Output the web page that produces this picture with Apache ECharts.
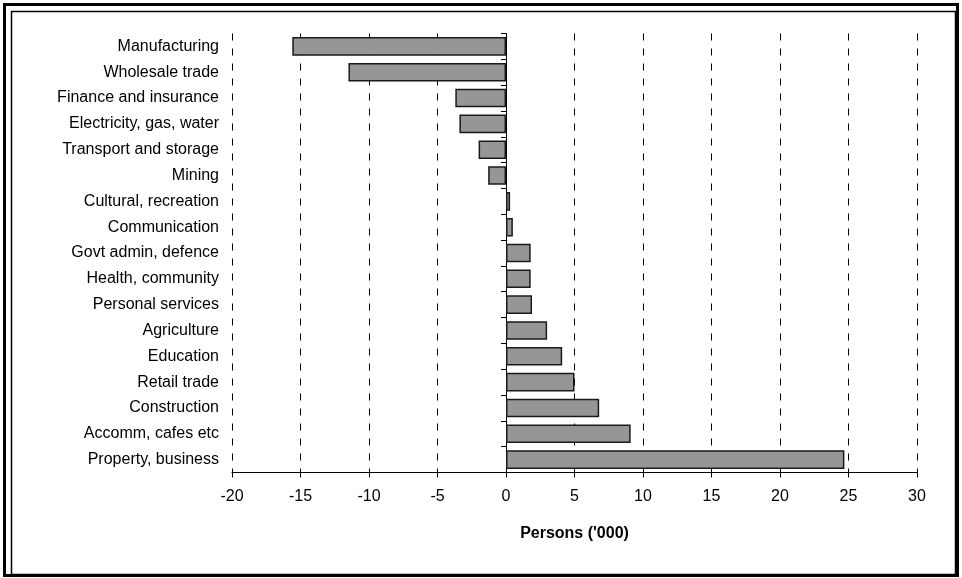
<!DOCTYPE html>
<html>
<head>
<meta charset="utf-8">
<script src="https://cdn.jsdelivr.net/npm/echarts@6/dist/echarts.min.js"></script>
<style>html,body{margin:0;padding:0;background:#fff}#c{width:962px;height:578px}</style>
</head>
<body>
<div id="c"></div>
<script>
var categories = ["Manufacturing","Wholesale trade","Finance and insurance","Electricity, gas, water","Transport and storage","Mining","Cultural, recreation","Communication","Govt admin, defence","Health, community","Personal services","Agriculture","Education","Retail trade","Construction","Accomm, cafes etc","Property, business"];
var values = [-15.6,-11.5,-3.7,-3.4,-2.0,-1.3,0.3,0.5,1.8,1.8,1.9,3.0,4.1,5.0,6.8,9.1,24.7];
var xTicks = {min:-20, max:30, step:5};
var xTitle = "Persons ('000)";

var gridLeft = 232, gridRight = 45;
var plotW = 962 - gridLeft - gridRight;
var zeroOffset = plotW * (0 - xTicks.min) / (xTicks.max - xTicks.min);

var chart = echarts.init(document.getElementById('c'), null, {renderer:'canvas'});
var font = 'Liberation Sans, Arial, sans-serif';
chart.setOption({
  animation:false,
  backgroundColor:'#fff',
  grid:{left:gridLeft,right:gridRight,top:33.5,bottom:105.5,containLabel:false,outerBoundsMode:'none'},
  xAxis:{
    type:'value', min:xTicks.min, max:xTicks.max, interval:xTicks.step,
    axisLine:{show:true,onZero:false,lineStyle:{color:'#000',width:1}},
    axisTick:{show:true,length:5,lineStyle:{color:'#000'}},
    axisLabel:{color:'#000',fontSize:16,fontFamily:font,margin:16},
    splitLine:{show:true,lineStyle:{color:'#000',width:1,type:[7,8]}},
    name:xTitle, nameLocation:'middle', nameGap:53,
    nameTextStyle:{color:'#000',fontSize:16,fontWeight:'bold',fontFamily:font}
  },
  yAxis:[{
    type:'category', data:categories, inverse:true, position:'left',
    axisLine:{show:false}, axisTick:{show:false}, splitLine:{show:false},
    axisLabel:{color:'#000',fontSize:16,fontFamily:font,margin:13}
  },{
    type:'category', data:categories, inverse:true, position:'left', offset:-zeroOffset,
    axisLine:{show:true,onZero:false,lineStyle:{color:'#000',width:1}},
    axisTick:{show:true,length:5,lineStyle:{color:'#000'}},
    axisLabel:{show:false}, splitLine:{show:false}
  }],
  series:[{
    type:'bar', data:values, yAxisIndex:0, barCategoryGap:'28%',
    itemStyle:{color:'#969696',borderColor:'#1a1a1a',borderWidth:1.5}
  }],
  graphic:[
    {type:'rect',shape:{x:4.5,y:4.5,width:953,height:571},style:{fill:null,stroke:'#000',lineWidth:3},silent:true},
    {type:'rect',shape:{x:11.5,y:11.5,width:944,height:563},style:{fill:null,stroke:'#000',lineWidth:1.5},silent:true}
  ]
});
</script>
</body>
</html>
